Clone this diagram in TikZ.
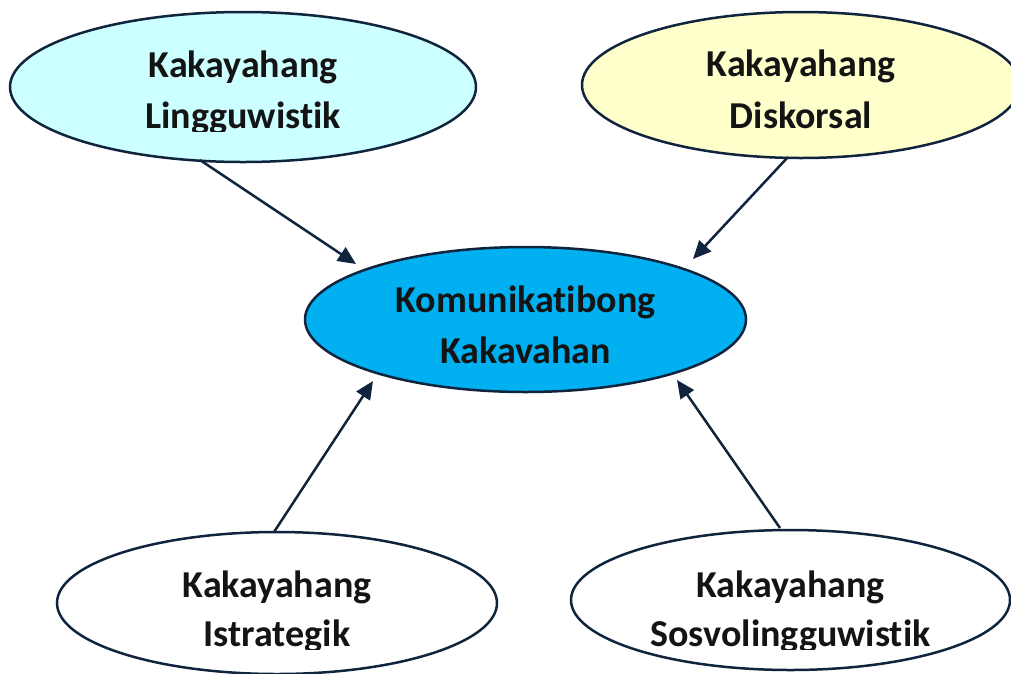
\documentclass[tikz,border=0pt]{standalone}
\usepackage{fontspec}
\setmainfont{Carlito}[Ligatures=NoCommon]
\usetikzlibrary{shapes.geometric,arrows.meta}
\definecolor{navy}{HTML}{10243E}
\definecolor{lcyan}{HTML}{CCFFFF}
\definecolor{lyellow}{HTML}{FFFFCC}
\definecolor{cblue}{HTML}{00B0F0}
\tikzset{
  oval/.style={ellipse, draw=navy, line width=2.5pt, inner sep=0pt},
  lbl/.style={anchor=base, inner sep=0pt, font=\fontsize{38}{38}\selectfont\bfseries, text=black!92},
  arr/.style={draw=navy, line width=2.5pt, -{Triangle[length=18pt,width=16pt]}}
}
\begin{document}
\begin{tikzpicture}[x=1pt,y=-1pt]
\useasboundingbox (0,0) rectangle (1011,673);
\fill[white] (0,0) rectangle (1011,673);
\begin{scope}
\clip (0,0) rectangle (1011,673);
\node[oval, fill=lcyan, minimum width=466pt, minimum height=150pt] (ling) at (243,87) {};
\node[oval, fill=lyellow, minimum width=438pt, minimum height=146pt] (disk) at (801,85) {};
\node[oval, fill=cblue, minimum width=441pt, minimum height=145pt] (kom) at (525.5,319.5) {};
\node[oval, fill=white, minimum width=440pt, minimum height=142pt] (istr) at (277,603) {};
\node[oval, fill=white, minimum width=439pt, minimum height=140pt] (sos) at (790.5,600) {};
\end{scope}
% first lines
\node[lbl] (t1a) at (243,77) {Kakayahang};
\node[lbl] (t2a) at (801,76) {Kakayahang};
\node[lbl] (t3a) at (525.5,312) {Komunikatibong};
\node[lbl] (t4a) at (277,597) {Kakayahang};
\node[lbl] (t5a) at (790.5,597) {Kakayahang};
% second lines, clipped just below baseline
\begin{scope}\clip (0,95) rectangle (1011,131);
\node[lbl] (t1b) at (243,128) {Lingguwistik};
\node[lbl] (t2b) at (801,128) {Diskorsal};
\end{scope}
\begin{scope}\clip (0,330) rectangle (1011,366);
\node[lbl] (t3b) at (525.5,363) {Kakavahan};
\end{scope}
\begin{scope}\clip (0,615) rectangle (1011,649);
\node[lbl] (t4b) at (277,646) {Istrategik};
\node[lbl] (t5b) at (790.5,646) {Sosvolingguwistik};
\end{scope}
% arrows
\coordinate (s1) at (200,160); \coordinate (e1) at (356,264);
\coordinate (s2) at (788,157); \coordinate (e2) at (693,259);
\coordinate (s3) at (274,532); \coordinate (e3) at (373,381);
\coordinate (s4) at (780,528); \coordinate (e4) at (677,380);
\draw[arr] (s1) -- (e1);
\draw[arr] (s2) -- (e2);
\draw[arr] (s3) -- (e3);
\draw[arr] (s4) -- (e4);
\end{tikzpicture}
\end{document}
